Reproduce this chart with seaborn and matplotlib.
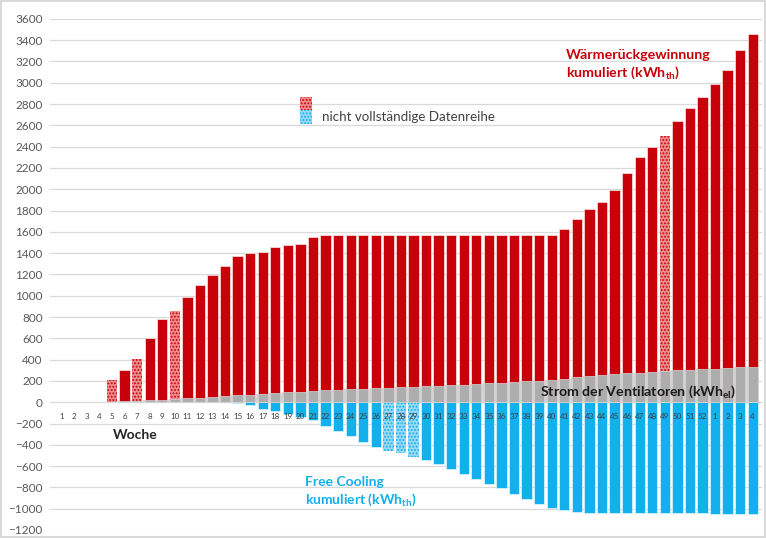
import matplotlib
matplotlib.use("Agg")
import matplotlib.pyplot as plt
from matplotlib.patches import Rectangle
import seaborn as sns

# Kalenderwochen (Jahr 1: 1-52, danach 1-4 des Folgejahres)
wochen = list(range(1, 53)) + [1, 2, 3, 4]

# Wärmerückgewinnung kumuliert (kWh_th)
waermerueckgewinnung = [
    0, 0, 0, 0, 205, 300, 410, 600, 780, 860,
    990, 1100, 1190, 1280, 1370, 1400, 1410, 1460, 1475, 1490,
    1550, 1570, 1570, 1570, 1570, 1570, 1570, 1570, 1570, 1570,
    1570, 1570, 1570, 1570, 1570, 1570, 1570, 1570, 1570, 1575,
    1630, 1720, 1810, 1880, 1990, 2150, 2300, 2400, 2500, 2640,
    2760, 2870, 2990, 3120, 3305, 3455,
]

# Free Cooling kumuliert (kWh_th), negativ dargestellt
free_cooling = [
    0, 0, 0, 0, 0, 0, 0, 0, 0, 0,
    0, 0, 0, 0, -5, -30, -60, -85, -110, -140,
    -170, -220, -270, -320, -370, -420, -455, -480, -510, -545,
    -585, -630, -675, -720, -770, -810, -858, -905, -955, -990,
    -1010, -1030, -1040, -1045, -1045, -1045, -1045, -1045, -1045, -1045,
    -1045, -1045, -1050, -1050, -1050, -1050,
]

# Strom der Ventilatoren kumuliert (kWh_el)
strom_ventilatoren = [
    0, 0, 0, 0, 5, 8, 12, 17, 22, 28,
    35, 42, 50, 57, 64, 71, 78, 85, 92, 98,
    104, 110, 115, 120, 126, 131, 136, 141, 146, 151,
    156, 161, 166, 172, 178, 184, 190, 196, 203, 212,
    222, 233, 245, 255, 263, 270, 277, 284, 291, 298,
    304, 310, 316, 322, 328, 334,
]

# nicht vollständige Datenreihen (Position in der Reihe)
unvollst_waerme = [4, 6, 9, 48]
unvollst_cooling = [26, 27, 28]

ROT = "#C8000A"
ROT_HELL = "#EE8C8C"
BLAU = "#12B0EC"
BLAU_HELL = "#98D9F6"
GRAU = "#ADADAD"

sns.set_style("white")
plt.rcParams["font.family"] = ["Lato", "DejaVu Sans"]
plt.rcParams["mathtext.fontset"] = "custom"
plt.rcParams["mathtext.rm"] = "Lato"
plt.rcParams["mathtext.bf"] = "Lato:bold"
plt.rcParams["hatch.linewidth"] = 0.9

fig = plt.figure(figsize=(7.66, 5.38), dpi=100)
fig.patch.set_edgecolor("#D9D9D9")
fig.patch.set_linewidth(1.5)
ax = fig.add_axes([0.065, 0.0149, 0.93, 0.950])

pos = list(range(len(wochen)))

# Waermerueckgewinnung
n0 = len(ax.patches)
sns.barplot(x=pos, y=waermerueckgewinnung, color=ROT, saturation=1, width=0.82,
            edgecolor="#FFE4E4", linewidth=0.5, errorbar=None, ax=ax, zorder=2)
rot_bars = ax.patches[n0:]

# Free Cooling
n0 = len(ax.patches)
sns.barplot(x=pos, y=free_cooling, color=BLAU, saturation=1, width=0.82,
            edgecolor="#E0F6FF", linewidth=0.5, errorbar=None, ax=ax, zorder=2)
blau_bars = ax.patches[n0:]

# Strom Ventilatoren (Flaeche in den Luecken + Balken darueber)
ax.fill_between(pos, strom_ventilatoren, step="mid", color="#D2D2D2", lw=0, zorder=1.5)
sns.barplot(x=pos, y=strom_ventilatoren, color=GRAU, saturation=1, width=0.82,
            edgecolor="#D8D8D8", linewidth=0.5, errorbar=None, ax=ax, zorder=3)

for i in unvollst_waerme:
    p = rot_bars[i]
    p.set_facecolor(ROT_HELL)
    p.set_edgecolor(ROT)
    p.set_linewidth(0)
    p.set_hatch(".....")
for i in unvollst_cooling:
    p = blau_bars[i]
    p.set_facecolor(BLAU_HELL)
    p.set_edgecolor(BLAU)
    p.set_linewidth(0)
    p.set_hatch(".....")

# Achsen
ax.set_ylim(-1200, 3600)
ax.set_yticks(range(-1200, 3601, 200))
ax.set_xlim(-0.95, 55.75)
ax.set_xticks(pos, labels=[str(w) for w in wochen])
ax.set_xlabel("")
ax.set_ylabel("")
ax.grid(axis="y", color="#D9D9D9", lw=0.9)
ax.grid(axis="x", visible=False)
ax.set_axisbelow(True)
ax.xaxis.set_zorder(5)
for s in ["left", "right", "top"]:
    ax.spines[s].set_visible(False)
ax.spines["bottom"].set_position(("data", 0))
ax.spines["bottom"].set_color("#D9D9D9")
ax.spines["bottom"].set_zorder(1)
ax.tick_params(axis="x", length=0, labelsize=5.8, pad=8, labelcolor="#404040")
ax.tick_params(axis="y", length=0, labelsize=8.5, pad=5, labelcolor="#595959")

# Beschriftungen
ax.text(40.1, 3165, "Wärmerückgewinnung\nkumuliert (kWh$_\\mathbf{th}$)",
        color=ROT, fontsize=10.3, fontweight="bold", va="center", ha="left",
        linespacing=1.3, zorder=6)
ax.text(38.1, 103, "Strom der Ventilatoren (kWh$_\\mathbf{el}$)",
        color="#1A1A1A", fontsize=10.2, fontweight="bold", va="center", ha="left", zorder=6)
ax.text(4.06, -310, "Woche", color="#262626", fontsize=10, fontweight="bold",
        va="center", ha="left", zorder=6)
ax.text(19.4, -845, "Free Cooling\nkumuliert (kWh$_\\mathbf{th}$)",
        color=BLAU, fontsize=10, fontweight="bold", va="center", ha="left",
        linespacing=1.3, zorder=6)

# Legende: nicht vollstaendige Datenreihe
ax.add_patch(Rectangle((0.351, 0.822), 0.017, 0.026, transform=ax.transAxes,
                       facecolor=ROT_HELL, edgecolor=ROT, lw=0, hatch=".....", zorder=6))
ax.add_patch(Rectangle((0.351, 0.795), 0.017, 0.026, transform=ax.transAxes,
                       facecolor=BLAU_HELL, edgecolor=BLAU, lw=0, hatch=".....", zorder=6))
ax.text(0.382, 0.808, "nicht vollständige Datenreihe", transform=ax.transAxes,
        color="#404040", fontsize=9.6, va="center", ha="left", zorder=6)

fig.savefig("out.png", dpi=100)
